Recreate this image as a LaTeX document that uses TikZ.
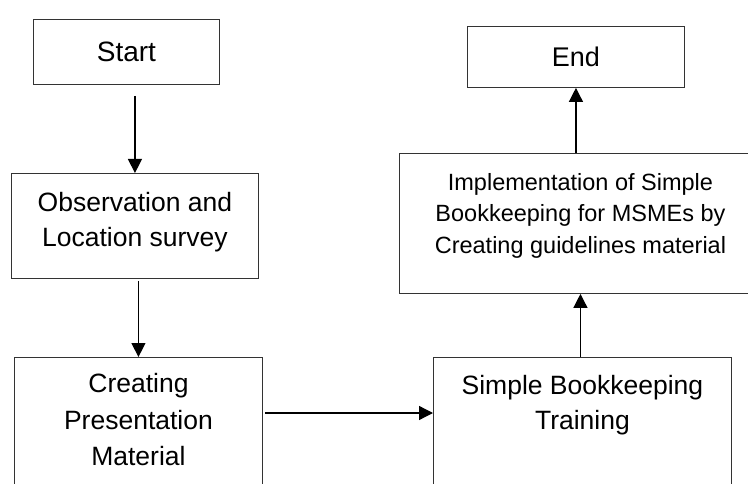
\documentclass[tikz,border=0pt]{standalone}
\usepackage{fontspec}
\setmainfont{Liberation Sans}
\usetikzlibrary{arrows.meta}
\begin{document}
\begin{tikzpicture}[x=1pt,y=-1pt,
  box/.style={draw=black!80,line width=0.9pt,rectangle,inner sep=0pt,anchor=north west},
  txt/.style={inner sep=0pt,align=center,anchor=north},
  arr/.style={draw=black,line width=1.3pt,-{Triangle[length=14pt,width=14pt]}},
  big/.style={font=\fontsize{26.5}{35}\selectfont}]
\useasboundingbox (0,0) rectangle (748,484);
\clip (0,0) rectangle (748,484);
% boxes
\node[box,minimum width=186pt,minimum height=65pt,font=\fontsize{28}{34}\selectfont] (start) at (33,19) {Start};
\node[box,minimum width=247pt,minimum height=105pt] (obs) at (11,173) {};
\node[box,minimum width=248pt,minimum height=200pt] (crt) at (14,357) {};
\node[box,minimum width=298pt,minimum height=200pt] (trn) at (433,357) {};
\node[box,minimum width=362pt,minimum height=140pt] (impl) at (399,153) {};
\node[box,minimum width=217pt,minimum height=61pt,font=\fontsize{27}{34}\selectfont] (end) at (467,26) {End};
% texts
\node[txt,big] (obsT) at ([yshift=-19.5pt]obs.north) {Observation and\\Location survey};
\node[txt,font=\fontsize{26.5}{36.5}\selectfont] (crtT) at ([yshift=-16.5pt]crt.north) {Creating\\Presentation\\Material};
\node[txt,big] (trnT) at ([yshift=-18.5pt]trn.north) {Simple Bookkeeping\\Training};
\node[txt,font=\fontsize{23.5}{31.5}\selectfont] (implT) at ([yshift=-20pt]impl.north) {Implementation of Simple\\Bookkeeping for MSMEs by\\Creating guidelines material};
% connectors
\coordinate (a1) at ([yshift=-11pt]start.south);
\draw[arr] (a1 -| obs.north) -- (obs.north);
\coordinate (a2) at ([yshift=-2pt]obs.south);
\draw[arr] (a2 -| crt.north) -- (crt.north);
\coordinate (a3) at (265,413);
\draw[arr] (a3) -- (a3 -| trn.west);
\draw[arr] (impl.south |- trn.north) -- (impl.south);
\draw[arr] (end.south |- impl.north) -- (end.south);
\end{tikzpicture}
\end{document}
